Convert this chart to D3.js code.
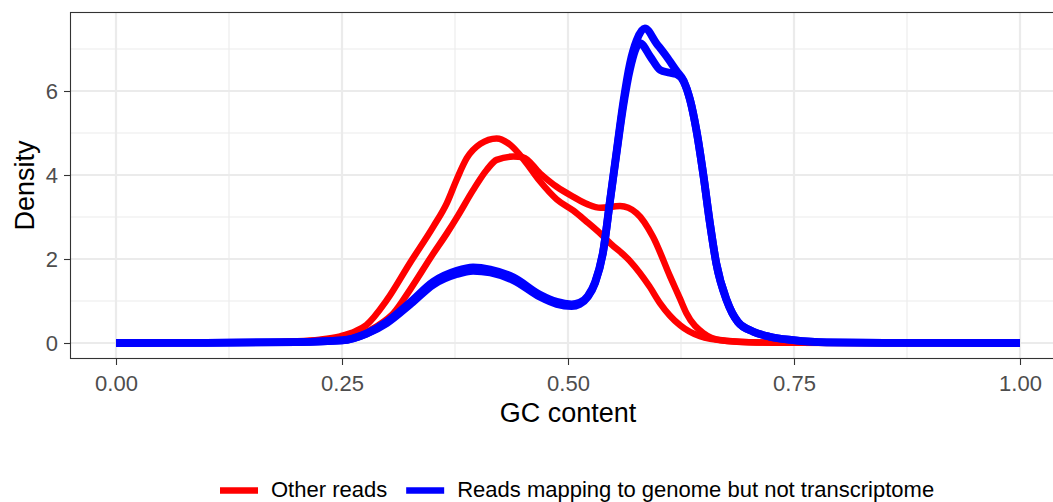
<!DOCTYPE html>
<html>
<head>
<meta charset="utf-8">
<script src="https://cdn.jsdelivr.net/npm/d3@7"></script>
<style>
  body { margin: 0; background: #ffffff; }
  text { font-family: "Liberation Sans", Arial, Helvetica, sans-serif; }
</style>
</head>
<body>
<svg id="chart" width="1053" height="502"></svg>
<script>
// GC content density curves, two samples per read class: [GC fraction, density]
const otherReadsA = [
  [0.000, 0], [0.100, 0.004], [0.150, 0.012], [0.200, 0.04], [0.225, 0.08],
  [0.248, 0.16], [0.265, 0.28], [0.277, 0.43], [0.2995, 1.02], [0.325, 1.90],
  [0.351, 2.77], [0.366, 3.33], [0.377, 3.90], [0.388, 4.40], [0.403, 4.74],
  [0.421, 4.87], [0.436, 4.72], [0.4506, 4.38], [0.469, 3.85], [0.4875, 3.42],
  [0.506, 3.15], [0.520, 2.90], [0.535, 2.62], [0.5465, 2.38], [0.5686, 1.95],
  [0.590, 1.35], [0.6017, 0.95], [0.624, 0.42], [0.646, 0.16], [0.6755, 0.05],
  [0.712, 0.012], [0.750, 0.003], [1.000, 0]
];
const otherReadsB = [
  [0.000, 0], [0.100, 0.003], [0.150, 0.010], [0.200, 0.03], [0.250, 0.10],
  [0.270, 0.20], [0.290, 0.42], [0.307, 0.71], [0.325, 1.26], [0.351, 2.13],
  [0.366, 2.61], [0.3785, 3.04], [0.395, 3.64], [0.410, 4.12], [0.421, 4.36],
  [0.4395, 4.44], [0.4506, 4.42], [0.469, 4.04], [0.4875, 3.72], [0.506, 3.48],
  [0.522, 3.30], [0.536, 3.22], [0.5575, 3.26], [0.576, 3.09], [0.594, 2.53],
  [0.613, 1.58], [0.624, 1.05], [0.631, 0.71], [0.650, 0.23], [0.668, 0.07],
  [0.700, 0.02], [0.750, 0.004], [1.000, 0]
];
const genomeOnlyA = [
  [0.000, 0], [0.100, 0.005], [0.200, 0.02], [0.250, 0.06], [0.2773, 0.23],
  [0.2994, 0.50], [0.325, 0.96], [0.351, 1.46], [0.377, 1.72], [0.395, 1.80],
  [0.414, 1.75], [0.440, 1.56], [0.469, 1.15], [0.4875, 0.98], [0.504, 0.92],
  [0.513, 0.96], [0.522, 1.12], [0.530, 1.45], [0.539, 2.20], [0.5465, 3.40],
  [0.554, 4.60], [0.561, 5.71], [0.5686, 6.66], [0.576, 7.21], [0.585, 7.49],
  [0.598, 7.13], [0.609, 6.82], [0.620, 6.48], [0.628, 6.24], [0.635, 5.79],
  [0.642, 5.07], [0.650, 3.96], [0.657, 2.85], [0.664, 1.90], [0.6755, 1.02],
  [0.688, 0.50], [0.705, 0.27], [0.723, 0.15], [0.749, 0.07], [0.786, 0.015],
  [0.850, 0.003], [1.000, 0]
];
const genomeOnlyB = [
  [0.000, 0], [0.100, 0.005], [0.200, 0.02], [0.250, 0.06], [0.2773, 0.22],
  [0.2994, 0.47], [0.325, 0.91], [0.351, 1.39], [0.377, 1.64], [0.395, 1.72],
  [0.414, 1.68], [0.440, 1.49], [0.469, 1.10], [0.4875, 0.93], [0.504, 0.88],
  [0.513, 0.93], [0.522, 1.10], [0.530, 1.43], [0.539, 2.18], [0.5465, 3.38],
  [0.554, 4.56], [0.561, 5.62], [0.5686, 6.52], [0.5796, 7.14], [0.591, 6.82],
  [0.602, 6.50], [0.611, 6.44], [0.620, 6.40], [0.628, 6.22], [0.635, 5.79],
  [0.642, 5.07], [0.650, 3.96], [0.657, 2.85], [0.664, 1.90], [0.6755, 1.02],
  [0.688, 0.50], [0.705, 0.27], [0.723, 0.15], [0.749, 0.07], [0.786, 0.015],
  [0.850, 0.003], [1.000, 0]
];

const xTicks = [0, 0.25, 0.5, 0.75, 1];
const xMinor = [0.125, 0.375, 0.625, 0.875];
const yTicks = [0, 2, 4, 6];
const yMinor = [1, 3, 5, 7];
const legendLabels = ["Other reads", "Reads mapping to genome but not transcriptome"];
const seriesColors = ["#FF0000", "#0000FF"];

const series = [
  { values: otherReadsA, group: 0 },
  { values: otherReadsB, group: 0 },
  { values: genomeOnlyA, group: 1 },
  { values: genomeOnlyB, group: 1 }
];

const svg = d3.select("#chart");
const panel = { left: 70.5, top: 12.5, right: 1065, bottom: 358.5 };

const x = d3.scaleLinear().domain([-0.05, 1.05]).range([70.8, 1065.2]);
const y = d3.scaleLinear().domain([-0.375, 7.875]).range([358.75, 12.25]);

// panel background
svg.append("rect")
  .attr("x", panel.left).attr("y", panel.top)
  .attr("width", panel.right - panel.left).attr("height", panel.bottom - panel.top)
  .attr("fill", "#ffffff");

const grid = svg.append("g");
grid.selectAll(".xminor").data(xMinor).join("line")
  .attr("x1", d => x(d)).attr("x2", d => x(d))
  .attr("y1", panel.top).attr("y2", panel.bottom)
  .attr("stroke", "#EBEBEB").attr("stroke-width", 1.1);
grid.selectAll(".yminor").data(yMinor).join("line")
  .attr("y1", d => y(d)).attr("y2", d => y(d))
  .attr("x1", panel.left).attr("x2", panel.right)
  .attr("stroke", "#EBEBEB").attr("stroke-width", 1.1);
grid.selectAll(".xmajor").data(xTicks).join("line")
  .attr("x1", d => x(d)).attr("x2", d => x(d))
  .attr("y1", panel.top).attr("y2", panel.bottom)
  .attr("stroke", "#EBEBEB").attr("stroke-width", 2.2);
grid.selectAll(".ymajor").data(yTicks).join("line")
  .attr("y1", d => y(d)).attr("y2", d => y(d))
  .attr("x1", panel.left).attr("x2", panel.right)
  .attr("stroke", "#EBEBEB").attr("stroke-width", 2.2);

// density curves
const line = d3.line()
  .x(d => x(d[0]))
  .y(d => y(d[1]))
  .curve(d3.curveMonotoneX);

svg.append("g").selectAll("path").data(series).join("path")
  .attr("d", d => line(d.values))
  .attr("fill", "none")
  .attr("stroke", d => seriesColors[d.group])
  .attr("stroke-width", d => d.group === 0 ? 6.5 : 7.8)
  .attr("stroke-linejoin", "round")
  .attr("stroke-linecap", "butt");

// panel border
svg.append("rect")
  .attr("x", panel.left).attr("y", panel.top)
  .attr("width", panel.right - panel.left).attr("height", panel.bottom - panel.top)
  .attr("fill", "none").attr("stroke", "#333333").attr("stroke-width", 1.1);

// axes
const xAxis = svg.append("g")
  .attr("transform", `translate(0,${panel.bottom})`)
  .call(d3.axisBottom(x).tickValues(xTicks).tickFormat(d3.format(".2f")).tickSize(6.5).tickPadding(6));
const yAxis = svg.append("g")
  .attr("transform", `translate(${panel.left},0)`)
  .call(d3.axisLeft(y).tickValues(yTicks).tickFormat(d3.format("d")).tickSize(6.5).tickPadding(6));

[xAxis, yAxis].forEach(a => {
  a.select(".domain").remove();
  a.selectAll(".tick line").attr("stroke", "#333333").attr("stroke-width", 1.1);
  a.selectAll(".tick text")
    .attr("fill", "#4D4D4D")
    .style("font-size", "22px")
    .style("font-family", '"Liberation Sans", Arial, sans-serif');
});
xAxis.selectAll(".tick text").attr("dy", null).attr("y", 32.5);
yAxis.selectAll(".tick text").attr("dy", "0.35em");

// axis titles
svg.append("text")
  .attr("x", x(0.5)).attr("y", 422)
  .attr("text-anchor", "middle")
  .style("font-size", "27px")
  .text("GC content");

svg.append("text")
  .attr("transform", `translate(33.5,${(panel.top + panel.bottom) / 2}) rotate(-90)`)
  .attr("text-anchor", "middle")
  .style("font-size", "27px")
  .text("Density");

// legend
const legend = svg.append("g");
let cursor = 220;
legendLabels.forEach((label, i) => {
  legend.append("line")
    .attr("x1", cursor).attr("x2", cursor + 38)
    .attr("y1", 490.5).attr("y2", 490.5)
    .attr("stroke", seriesColors[i]).attr("stroke-width", 6.5);
  const t = legend.append("text")
    .attr("x", cursor + 51).attr("y", 496.5)
    .style("font-size", "22px")
    .text(label);
  cursor = cursor + 51 + t.node().getComputedTextLength() + 19;
});
</script>
</body>
</html>
